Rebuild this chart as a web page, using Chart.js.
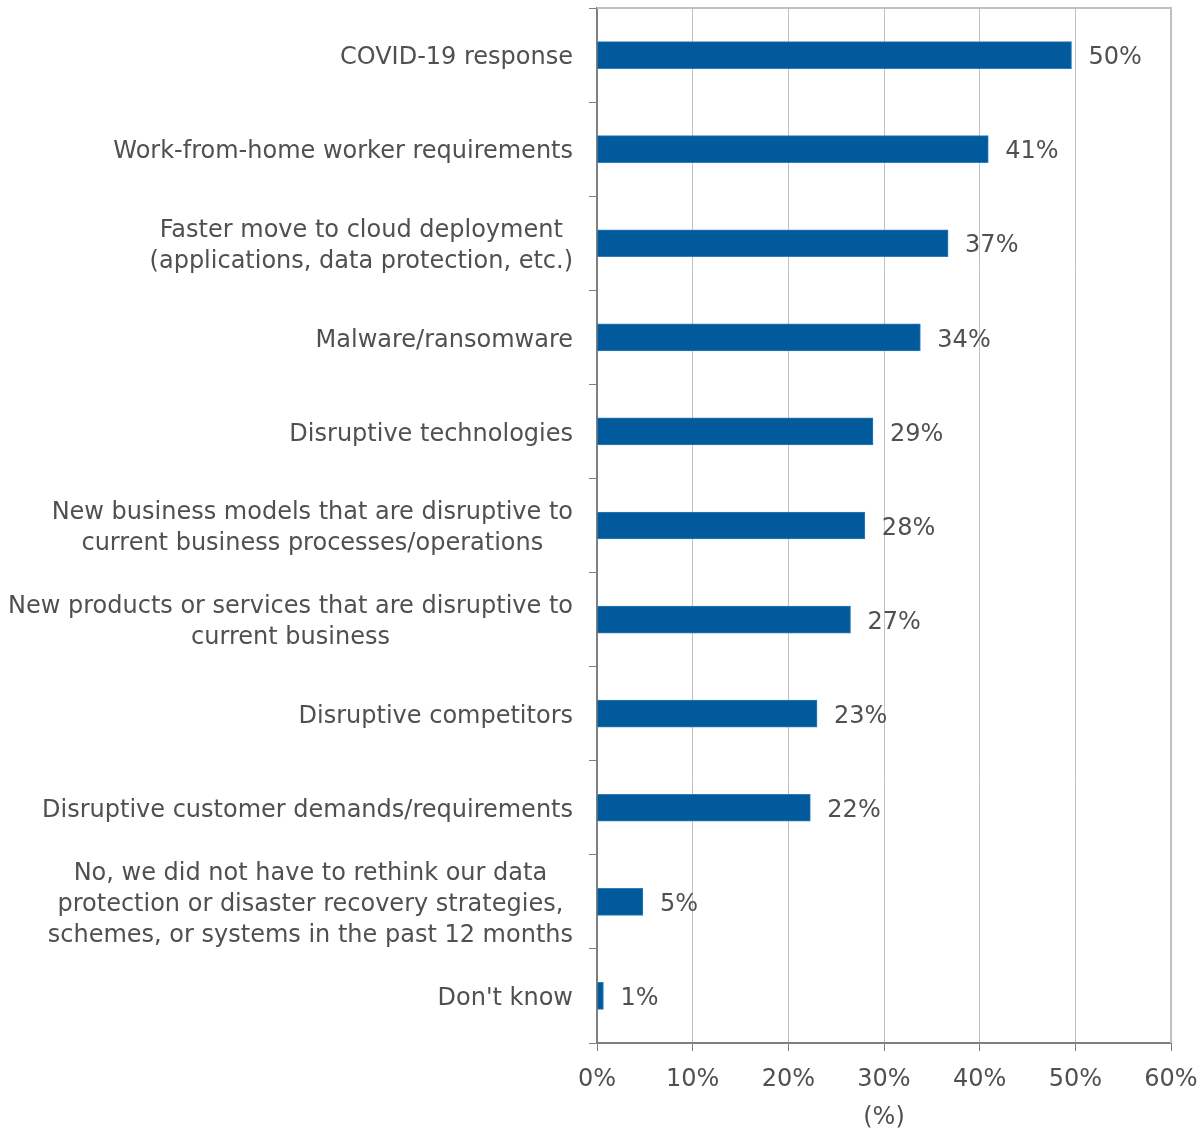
<!DOCTYPE html>
<html>
<head>
<meta charset="utf-8">
<script src="https://cdn.jsdelivr.net/npm/chart.js@4.4.1/dist/chart.umd.min.js"></script>
<style>
    html, body {margin: 0; padding: 0; background: #fff;}
    #wrap {width: 1199px; height: 1130px;}
</style>
</head>
<body>
<div id="wrap"><canvas id="myChart"></canvas></div>
<script>
// categories (multi-line labels kept as arrays)
const categories = [
    ["COVID-19 response"],
    ["Work-from-home worker requirements"],
    ["Faster move to cloud deployment", "(applications, data protection, etc.)"],
    ["Malware/ransomware"],
    ["Disruptive technologies"],
    ["New business models that are disruptive to", "current business processes/operations"],
    ["New products or services that are disruptive to", "current business"],
    ["Disruptive competitors"],
    ["Disruptive customer demands/requirements"],
    ["No, we did not have to rethink our data", "protection or disaster recovery strategies,", "schemes, or systems in the past 12 months"],
    ["Don't know"]
]
const values = [49.6, 40.9, 36.7, 33.8, 28.85, 28.0, 26.5, 23.0, 22.3, 4.8, 0.67]
const valueLabels = ["50%", "41%", "37%", "34%", "29%", "28%", "27%", "23%", "22%", "5%", "1%"]
const xTicks = [0, 10, 20, 30, 40, 50, 60]
const xTitle = "(%)"

const FONT = "24px 'DejaVu Sans'"
const TEXT = "#505050"

// frame round the plot + category labels + value labels
const drawExtras = {
    id: "drawExtras",
    beforeDatasetsDraw(chart) {
        const {ctx, chartArea: a} = chart
        ctx.save()
        ctx.strokeStyle = "#c0c0c0"
        ctx.lineWidth = 2
        ctx.beginPath()
        ctx.moveTo(a.left, a.top)
        ctx.lineTo(a.right, a.top)
        ctx.lineTo(a.right, a.bottom)
        ctx.stroke()
        ctx.restore()
    },
    afterDatasetsDraw(chart) {
        const ctx = chart.ctx
        const y = chart.scales.y
        const x = chart.scales.x
        ctx.save()
        ctx.font = FONT
        ctx.fillStyle = TEXT
        ctx.textBaseline = "middle"
        const lineH = 31
        const right = y.right - 24
        categories.forEach((lines, i) => {
            const cy = y.getPixelForValue(i) + 3
            let w = 0
            lines.forEach(l => { w = Math.max(w, ctx.measureText(l).width) })
            const cx = right - w / 2
            ctx.textAlign = "center"
            lines.forEach((l, j) => {
                ctx.fillText(l, cx, cy + (j - (lines.length - 1) / 2) * lineH)
            })
        })
        ctx.textAlign = "left"
        values.forEach((v, i) => {
            ctx.fillText(valueLabels[i], x.getPixelForValue(v) + 17, y.getPixelForValue(i) + 3)
        })
        ctx.restore()
    }
}

new Chart(document.getElementById("myChart").getContext("2d"), {
    type: "bar",
    data: {
        labels: categories,
        datasets: [{
            data: values,
            backgroundColor: "#005a9c",
            borderColor: "#2f7bbb",
            borderWidth: 1,
            borderSkipped: "left",
            barThickness: 27
        }]
    },
    options: {
        indexAxis: "y",
        responsive: true,
        maintainAspectRatio: false,
        animation: false,
        layout: {padding: {top: 8, right: 28, left: 0, bottom: 0}},
        plugins: {legend: {display: false}, tooltip: {enabled: false}},
        scales: {
            x: {
                min: 0,
                max: 60,
                afterBuildTicks: s => { s.ticks = xTicks.map(v => ({value: v})) },
                afterFit: s => {
                    s.height = 87
                    s.paddingLeft = 0
                    s.paddingRight = 0
                },
                border: {color: "#7f7f7f", width: 2},
                grid: {color: "#c0c0c0", lineWidth: 1, tickColor: "#7f7f7f", tickLength: 8},
                ticks: {
                    font: {family: "'DejaVu Sans'", size: 24},
                    color: TEXT,
                    padding: 14,
                    maxRotation: 0,
                    callback: v => v + "%"
                },
                title: {
                    display: true,
                    text: xTitle,
                    font: {family: "'DejaVu Sans'", size: 24},
                    color: TEXT,
                    padding: {top: 0, bottom: -2}
                }
            },
            y: {
                afterFit: s => { s.width = 597 },
                border: {color: "#7f7f7f", width: 2},
                grid: {offset: true, drawOnChartArea: false, color: "#7f7f7f", tickLength: 8},
                ticks: {display: false}
            }
        }
    },
    plugins: [drawExtras]
})
</script>
</body>
</html>
